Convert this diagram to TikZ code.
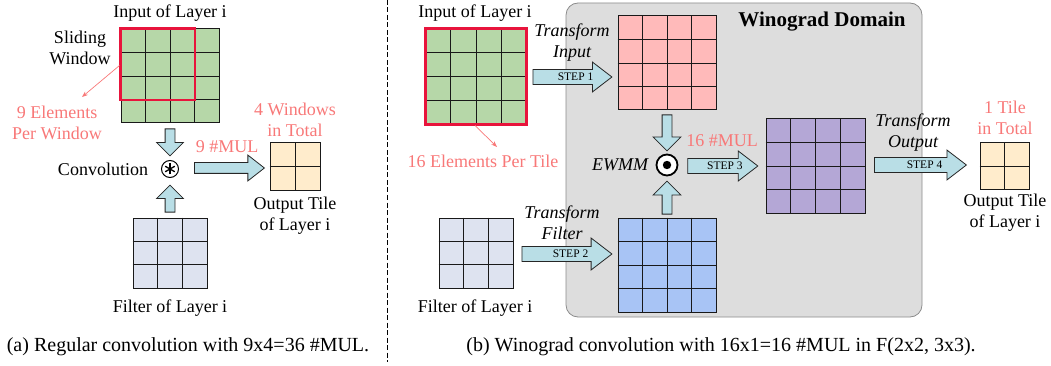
\documentclass[tikz,border=0pt]{standalone}
\usepackage{fontspec}
\setmainfont{Liberation Serif}
\usetikzlibrary{shapes.arrows,calc,arrows.meta}
\definecolor{ingreen}{RGB}{182,215,168}
\definecolor{inpink}{RGB}{255,186,186}
\definecolor{inblue}{RGB}{168,196,245}
\definecolor{inpurple}{RGB}{180,167,214}
\definecolor{filt}{RGB}{222,227,240}
\definecolor{outtile}{RGB}{255,236,204}
\definecolor{arrowfill}{RGB}{185,222,230}
\definecolor{salmon}{RGB}{248,120,120}
\definecolor{redwin}{RGB}{232,20,60}
\definecolor{domain}{RGB}{221,221,221}
\definecolor{domainline}{RGB}{140,140,140}
\definecolor{gridc}{RGB}{25,25,25}
\newcommand\gridlines[3]{%
  \foreach \k [evaluate=\k as \f using \k/#2] in {1,...,#3} {
    \draw[gridline] ($(#1.north west)!\f!(#1.north east)$) -- ($(#1.south west)!\f!(#1.south east)$);
    \draw[gridline] ($(#1.north west)!\f!(#1.south west)$) -- ($(#1.north east)!\f!(#1.south east)$);
  }}
\newcommand\steptext[2]{\hspace*{#1}STEP~#2}
\begin{document}
\begin{tikzpicture}[x=1pt,y=-1pt,
 lbl/.style={font=\fontsize{18}{21}\selectfont, align=center, inner sep=0pt},
 note/.style={lbl, text=salmon},
 itlbl/.style={lbl, font=\fontsize{18}{21}\selectfont\itshape},
 captext/.style={font=\fontsize{20}{24}\selectfont, inner sep=0pt},
 gridbox/.style={draw=gridc, line width=1pt, inner sep=0pt, rectangle},
 gridline/.style={draw=gridc, line width=0.9pt},
 blk/.style={single arrow, draw=black!85, fill=arrowfill, line width=0.8pt, inner xsep=0pt, anchor=tail},
 thinblk/.style={blk, inner ysep=4.5pt, single arrow head extend=8.5pt, single arrow tip angle=90},
 stepblk/.style={blk, font=\fontsize{11.5}{11.5}\selectfont, text height=7.5pt, text depth=0pt, inner ysep=3.3pt, single arrow head extend=7.5pt, single arrow tip angle=75},
 ptr/.style={draw=salmon, line width=0.7pt, -{Stealth[length=6pt,width=4.5pt]}},
 redbox/.style={draw=redwin, line width=2.2pt},
]
\useasboundingbox (0,0) rectangle (1051,366);

% ---------- (a) ----------
\node[gridbox, fill=ingreen, minimum width=98pt, minimum height=94pt] (inA) at (170,76) {};
\gridlines{inA}{4}{3}
\draw[redbox] (inA.north west) rectangle ($(inA.north west)!0.75!(inA.south east)$);
\node[lbl] (inAlbl) at (170,13) {Input of Layer i};
\node[lbl] (slide) at (80,48) {Sliding\\Window};
\node[note] (nineel) at (57,123) {9 Elements\\Per Window};
\coordinate (pA) at (82,97);
\draw[ptr] ($(inA.north west)+(-1,37)$) -- (pA);

\node[circle, draw, line width=1pt, minimum size=17pt, inner sep=0pt] (conv) at (170,169) {};
\foreach \a in {90,30,150} \draw[line width=1.3pt] ($(conv.center)+(\a:5.5)$) -- ($(conv.center)+(\a+180:5.5)$);
\node[lbl] (convlbl) at (103,169) {Convolution};

\node[thinblk, rotate=-90, minimum height=27pt] (dA) at ($(inA.south)+(0,5)$) {};
\node[gridbox, fill=filt, minimum width=74pt, minimum height=70pt] (filtA) at (170,253) {};
\gridlines{filtA}{3}{2}
\node[thinblk, rotate=90, minimum height=27pt] (uA) at ($(filtA.north)+(0,-5)$) {};
\node[lbl] (filtAlbl) at (170,308) {Filter of Layer i};

\node[gridbox, fill=outtile, minimum width=50pt, minimum height=47pt] (outA) at (295,166.5) {};
\gridlines{outA}{2}{1}
\node[blk, inner ysep=5pt, single arrow head extend=7.5pt, single arrow tip angle=76, minimum height=70pt] (rA) at ($(conv.east)+(15,-1)$) {};
\node[note] (mulA) at (227,147) {9 \#MUL};
\node[note] (winA) at (295,119.5) {4 Windows\\in Total};
\node[lbl] (outAlbl) at (295,216) {Output Tile\\of Layer i};
\node[captext] (capA) at (188,347) {(a) Regular convolution with 9x4=36 \#MUL.};

\draw[line width=0.8pt, dash pattern=on 5pt off 2.5pt] (387,0) -- (387,362);

% ---------- (b) ----------
\draw[draw=domainline, fill=domain, line width=0.8pt, rounded corners=12pt] (566,3) rectangle (922,317);
\node[font=\fontsize{21}{24}\selectfont\bfseries, inner sep=0pt] (wdom) at (822,22) {Winograd Domain};

\node[gridbox, fill=ingreen, minimum width=100pt, minimum height=95pt] (inB) at (476,76.5) {};
\gridlines{inB}{4}{3}
\draw[redbox] (inB.north west) rectangle (inB.south east);
\node[lbl] (inBlbl) at (475,13) {Input of Layer i};
\coordinate (pB) at (497,147);
\draw[ptr] ($(inB.south)+(-1,1)$) -- (pB);
\node[note] (sixteen) at (483,161) {16 Elements Per Tile};

\node[gridbox, fill=filt, minimum width=74pt, minimum height=70pt] (filtB) at (476,253) {};
\gridlines{filtB}{3}{2}
\node[lbl] (filtBlbl) at (475,308) {Filter of Layer i};

\node[gridbox, fill=inpink, minimum width=98pt, minimum height=94pt] (pinkB) at (667,63) {};
\gridlines{pinkB}{4}{3}
\node[gridbox, fill=inblue, minimum width=98pt, minimum height=94pt] (blueB) at (667,265) {};
\gridlines{blueB}{4}{3}
\node[gridbox, fill=inpurple, minimum width=99pt, minimum height=94pt] (purpB) at (815.5,166) {};
\gridlines{purpB}{4}{3}
\node[gridbox, fill=outtile, minimum width=49pt, minimum height=46pt] (outB) at (1004.5,166) {};
\gridlines{outB}{2}{1}

\node[stepblk, minimum height=79pt] (s1) at ($(pinkB.west)+(-85,14)$) {\steptext{16pt}{1}};
\node[itlbl] (tin) at (572,43) {Transform\\Input};
\node[stepblk, minimum height=90pt, single arrow head extend=8.5pt] (s2) at ($(blueB.west)+(-96,-11)$) {\steptext{17pt}{2}};
\node[itlbl] (tfi) at (562,222.5) {Transform\\Filter};

\node[circle, draw, fill=white, line width=1.8pt, minimum size=21pt, inner sep=0pt] (ewmm) at (667,165) {};
\fill (ewmm.center) circle (4.2);
\node[itlbl] (ewmmlbl) at (620,165) {EWMM};
\node[thinblk, rotate=-90, minimum height=36pt, single arrow head extend=9pt] (dB) at ($(pinkB.south)+(0,4)$) {};
\node[thinblk, rotate=90, minimum height=33pt, single arrow head extend=9pt] (uB) at ($(blueB.north)+(0,-3)$) {};

\node[stepblk, minimum height=70pt] (s3) at ($(ewmm.east)+(9,1)$) {\steptext{14pt}{3}};
\node[note] (mulB) at (722,141) {16 \#MUL};

\node[stepblk, minimum height=92pt] (s4) at ($(purpB.east)+(8.5,-1)$) {\steptext{18pt}{4}};
\node[itlbl] (tout) at (913,132.5) {Transform\\Output};
\node[note] (tileB) at (1005,118) {1 Tile\\in Total};
\node[lbl] (outBlbl) at (1005,213) {Output Tile\\of Layer i};

\node[captext] (capB) at (721,347) {(b) Winograd convolution with 16x1=16 \#MUL in F(2x2, 3x3).};
\end{tikzpicture}
\end{document}
